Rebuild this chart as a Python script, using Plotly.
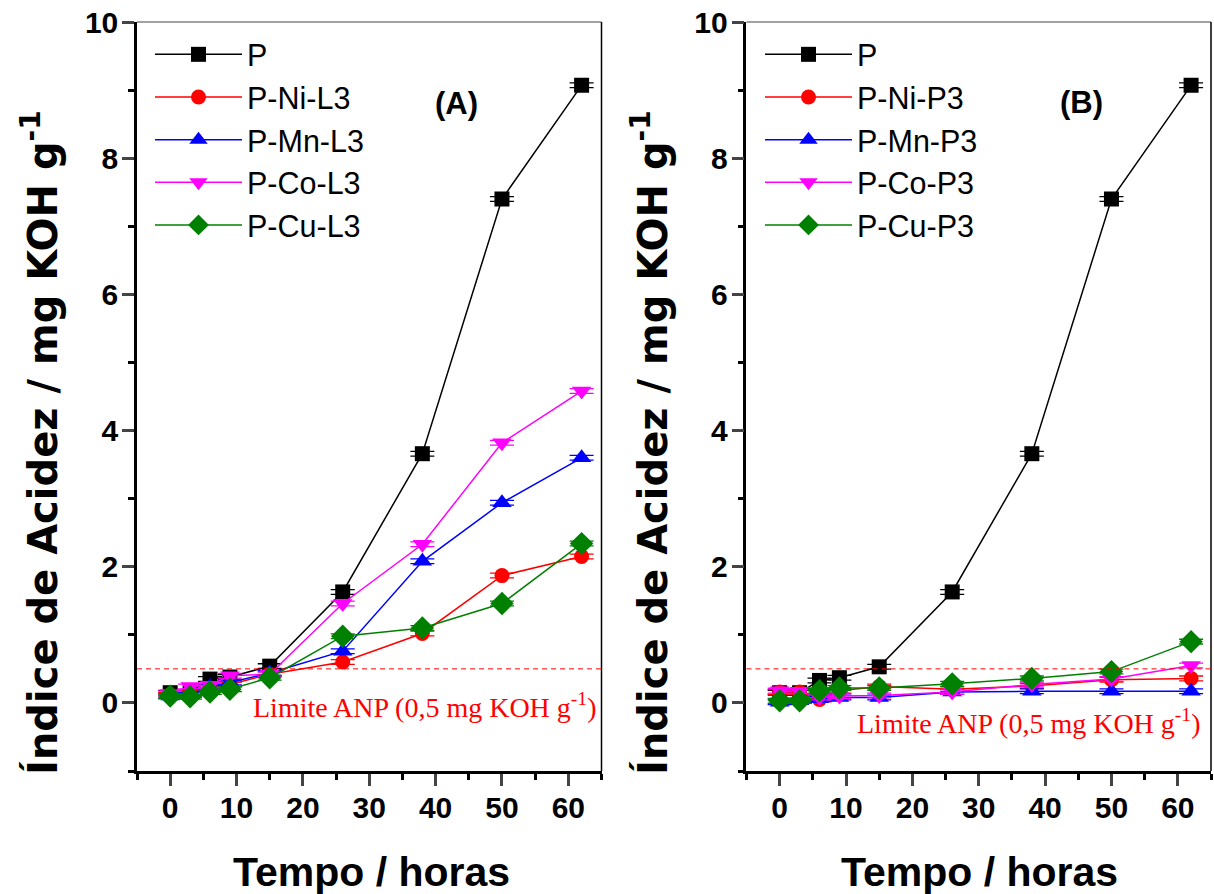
import plotly.graph_objects as go
from plotly.subplots import make_subplots

tempo = [0, 3, 6, 9, 15, 26, 38, 50, 62]

# Panel A
p_A = [0.15, 0.15, 0.35, 0.38, 0.54, 1.63, 3.66, 7.40, 9.07]
ni_L3 = [0.12, 0.14, 0.22, 0.27, 0.42, 0.60, 1.02, 1.87, 2.15]
mn_L3 = [0.10, 0.12, 0.24, 0.30, 0.44, 0.76, 2.08, 2.94, 3.60]
co_L3 = [0.14, 0.24, 0.26, 0.40, 0.42, 1.46, 2.33, 3.82, 4.58]
cu_L3 = [0.10, 0.09, 0.16, 0.20, 0.37, 0.98, 1.10, 1.46, 2.34]

# Panel B
p_B = [0.15, 0.15, 0.33, 0.37, 0.53, 1.63, 3.66, 7.40, 9.07]
ni_P3 = [0.16, 0.16, 0.05, 0.18, 0.24, 0.20, 0.25, 0.34, 0.36]
mn_P3 = [0.01, 0.03, 0.06, 0.08, 0.08, 0.16, 0.17, 0.17, 0.17]
co_P3 = [0.18, 0.17, 0.08, 0.10, 0.11, 0.16, 0.27, 0.35, 0.55]
cu_P3 = [0.03, 0.03, 0.18, 0.22, 0.22, 0.28, 0.36, 0.46, 0.90]

names_A = ["P", "P-Ni-L3", "P-Mn-L3", "P-Co-L3", "P-Cu-L3"]
names_B = ["P", "P-Ni-P3", "P-Mn-P3", "P-Co-P3", "P-Cu-P3"]
colors = ["#000000", "#ff0000", "#0000ff", "#ff00ff", "#008000"]
symbols = ["square", "circle", "triangle-up", "triangle-down", "diamond"]
sizes = [15, 15, 17, 17, 18]

x_ticks = [0, 10, 20, 30, 40, 50, 60]
y_ticks = [0, 2, 4, 6, 8, 10]
limite = 0.5

fig = make_subplots(rows=1, cols=2, horizontal_spacing=0.135)

def add_series(col, data, names, legend):
    for vals, nm, c, s, sz in zip(data, names, colors, symbols, sizes):
        fig.add_trace(go.Scatter(
            x=tempo, y=vals, name=nm, mode="lines+markers",
            line=dict(color=c, width=1.5),
            marker=dict(symbol=s, size=sz, color=c),
            error_y=dict(type="constant", value=0.035, thickness=1.3, width=12, color=c),
            legend=legend,
        ), row=1, col=col)

add_series(1, [p_A, ni_L3, mn_L3, co_L3, cu_L3], names_A, "legend")
add_series(2, [p_B, ni_P3, mn_P3, co_P3, cu_P3], names_B, "legend2")

tickfont = dict(family="Liberation Sans, Arial", size=30, color="black", weight="bold")
for col in (1, 2):
    fig.update_xaxes(range=[-5, 65], tickvals=x_ticks, ticks="outside", ticklen=12, tickwidth=2.5,
                     showline=True, linewidth=2.5, linecolor="black", showgrid=False, zeroline=False,
                     tickfont=tickfont, ticklabelstandoff=-4,
                     minor=dict(dtick=5, tick0=-5, ticks="outside", ticklen=6, tickwidth=2.5, tickcolor="black"),
                     row=1, col=col)
    fig.update_yaxes(range=[-1, 10], tickvals=y_ticks, ticks="outside", ticklen=12, tickwidth=2.5,
                     showline=True, linewidth=2.5, linecolor="black", showgrid=False, zeroline=False,
                     tickfont=tickfont, ticklabelstandoff=-2,
                     minor=dict(dtick=1, tick0=-1, ticks="outside", ticklen=6, tickwidth=2.5, tickcolor="black"),
                     row=1, col=col)

# frame top/right thin lines and limit line
for xr, yr in (("x", "y"), ("x2", "y2")):
    fig.add_shape(type="line", xref=xr + " domain", yref=yr + " domain", x0=0, x1=1, y0=1, y1=1,
                  line=dict(color="#444444", width=1))
    fig.add_shape(type="line", xref=xr + " domain", yref=yr + " domain", x0=1, x1=1, y0=0, y1=1,
                  line=dict(color="black", width=1.5))
    fig.add_shape(type="line", xref=xr + " domain", yref=yr, x0=0, x1=1, y0=limite, y1=limite,
                  line=dict(color="#ff0000", width=1, dash="5px,4px"))

W, H = 1214, 894
L, R, T, B = 137, 3, 22, 123
pw, ph = W - L - R, H - T - B
def px(x):
    return (x - L) / pw
def py(y):
    return (H - B - y) / ph

ytitle = "Índice de Acidez / mg KOH g<sup>-1</sup>"
ytitlefont = dict(family="DejaVu Sans", size=40, color="black", weight="bold")
titlefont = dict(family="Liberation Sans, Arial", size=41, color="black", weight="bold")
anns = [
    dict(text=ytitle, x=px(40), y=py(443), textangle=-90, font=ytitlefont),
    dict(text=ytitle, x=px(650), y=py(443), textangle=-90, font=ytitlefont),
    dict(text="Tempo / horas", x=px(371), y=py(872), font=titlefont),
    dict(text="Tempo / horas", x=px(979), y=py(872), font=titlefont),
    dict(text="(A)", x=px(456), y=py(104), font=dict(family="Liberation Sans, Arial", size=31, color="black", weight="bold")),
    dict(text="(B)", x=px(1081), y=py(103), font=dict(family="Liberation Sans, Arial", size=31, color="black", weight="bold")),
    dict(text="Limite ANP (0,5 mg KOH g<sup>-1</sup>)", x=px(599), y=py(705), xanchor="right",
         font=dict(family="Liberation Serif, Times New Roman", size=28, color="#ff0000")),
    dict(text="Limite ANP (0,5 mg KOH g<sup>-1</sup>)", x=px(1203), y=py(721), xanchor="right",
         font=dict(family="Liberation Serif, Times New Roman", size=28, color="#ff0000")),
]
for a in anns:
    a.setdefault("xanchor", "center")
    fig.add_annotation(xref="paper", yref="paper", yanchor="middle", showarrow=False, **a)

legfont = dict(family="Liberation Sans, Arial", size=30.5, color="black")
fig.update_layout(
    width=W, height=H,
    margin=dict(l=L, r=R, t=T, b=B),
    paper_bgcolor="white", plot_bgcolor="white",
    legend=dict(x=px(150), y=py(28), xanchor="left", yanchor="top", font=legfont,
                bgcolor="rgba(0,0,0,0)", itemwidth=87, tracegroupgap=0),
    legend2=dict(x=px(760), y=py(28), xanchor="left", yanchor="top", font=legfont,
                 bgcolor="rgba(0,0,0,0)", itemwidth=87, tracegroupgap=0),
)

fig.write_html("out.html", config={"displayModeBar": False},
               post_script="document.body.style.margin='0px';document.body.style.overflow='hidden';")
